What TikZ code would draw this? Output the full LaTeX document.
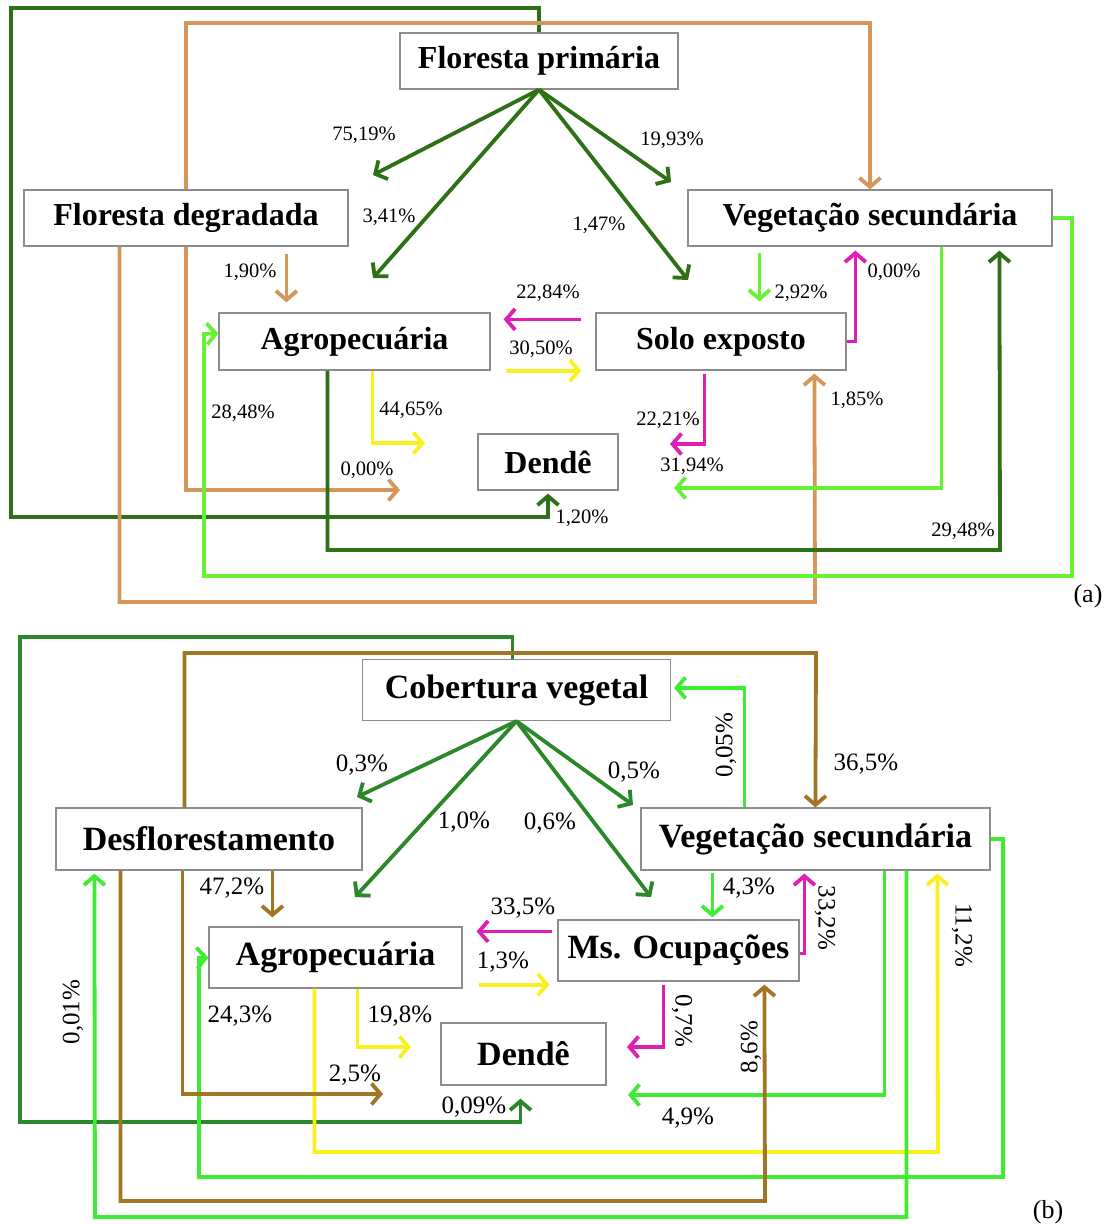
\documentclass[tikz,border=0pt]{standalone}
\usepackage{fontspec}
\setmainfont{Liberation Serif}
\usetikzlibrary{arrows.meta,calc}
\definecolor{dgA}{RGB}{46,112,22}
\definecolor{dgB}{RGB}{42,135,42}
\definecolor{lgA}{RGB}{100,242,50}
\definecolor{lgB}{RGB}{62,236,50}
\definecolor{orA}{RGB}{214,150,90}
\definecolor{brB}{RGB}{160,118,35}
\definecolor{mg}{RGB}{222,30,180}
\definecolor{yl}{RGB}{250,240,30}
\definecolor{boxgray}{RGB}{140,140,140}
\begin{document}
\begin{tikzpicture}[x=1pt,y=-1pt,
  boxA/.style={draw=boxgray,line width=1.2pt,fill=white,inner sep=0pt,
    font=\fontsize{32}{36}\selectfont\bfseries},
  boxB/.style={draw=boxgray,line width=1.2pt,fill=white,inner sep=0pt,
    font=\fontsize{34}{38}\selectfont\bfseries},
  lblA/.style={inner sep=0pt,font=\fontsize{20.5}{22}\selectfont},
  lblB/.style={inner sep=0pt,font=\fontsize{25}{27}\selectfont},
  flow/.style={line width=3.8pt,line join=miter,-{Straight Barb[length=9pt,width=21pt]}}]
\useasboundingbox (0,0) rectangle (1114,1224);
\fill[white] (0,0) rectangle (1114,1224);

% ---------------- panel (a) ----------------
\node[boxA,minimum width=278pt,minimum height=56pt] (fp) at (539,61) {Floresta primária};
\node[boxA,minimum width=324pt,minimum height=56pt] (fd) at (186,218) {Floresta degradada};
\node[boxA,minimum width=364pt,minimum height=56pt] (vs) at (870,218) {Vegetação secundária};
\node[boxA,minimum width=271pt,minimum height=57pt] (ag) at (354.5,341.5) {Agropecuária};
\node[boxA,minimum width=250pt,minimum height=57pt] (se) at (721,341.5) {Solo exposto};
\node[boxA,minimum width=140pt,minimum height=56pt] (de) at (548,462) {Dendê};

\coordinate (e7519) at (373,175);
\coordinate (e341) at (373,278);
\coordinate (e1993) at (671,182);
\coordinate (e147) at (688,280);
\coordinate (a000) at (400,490);
\coordinate (a4465) at (425,443);
\coordinate (a2221) at (670,444);
\coordinate (a3194) at (674,488);

\draw[flow,dgA] (fp.north) |- (11,8) -- (11,517) -| ($(de.south)+(0,3)$);
\draw[flow,orA] (fd.north) |- (870,23) -- (vs.north);
\draw[flow,orA] (fd.south) |- (a000);
\draw[flow,orA] ($(fd.south west)+(96,0)$) |- (815,602) -- ($(se.south west)+(219,3)$);
\draw[flow,orA] ($(fd.south west)+(263,7)$) -- ($(ag.north west)+(68,-10)$);
\draw[flow,dgA] (fp.south) -- (e7519);
\draw[flow,dgA] (fp.south) -- (e341);
\draw[flow,dgA] (fp.south) -- (e1993);
\draw[flow,dgA] (fp.south) -- (e147);
\draw[flow,mg] ($(se.north west)+(-14,7)$) -- ($(ag.north east)+(13,7)$);
\draw[flow,yl] ($(ag.south east)+(15,0)$) -- ($(se.south west)+(-14,0)$);
\draw[flow,lgA] ($(vs.south west)+(72,6)$) -- ($(se.north west)+(164,-11)$);
\draw[flow,mg] (se.east) -| ($(vs.south west)+(168,4)$);
\draw[flow,lgA] (vs.east) -| (1072,576) -| (204,334) -- ($(ag.north west)+(0,21)$);
\draw[flow,dgA] ($(ag.south west)+(109,0)$) |- (1000,550) -- ($(vs.south west)+(312,4)$);
\draw[flow,yl] ($(ag.south west)+(154,0)$) |- (a4465);
\draw[flow,mg] ($(se.south west)+(109,3)$) |- (a2221);
\draw[flow,lgA] ($(vs.south west)+(254,0)$) |- (a3194);

\node[lblA] (la1) at (364,135) {75,19\%};
\node[lblA] (la2) at (389,217) {3,41\%};
\node[lblA] (la3) at (250,272) {1,90\%};
\node[lblA] (la4) at (672,140) {19,93\%};
\node[lblA] (la5) at (599,225) {1,47\%};
\node[lblA] (la6) at (548,293) {22,84\%};
\node[lblA] (la7) at (541,349) {30,50\%};
\node[lblA] (la8) at (801,293) {2,92\%};
\node[lblA] (la9) at (894,272) {0,00\%};
\node[lblA] (la10) at (243,413) {28,48\%};
\node[lblA] (la11) at (411,410) {44,65\%};
\node[lblA] (la12) at (367,470) {0,00\%};
\node[lblA] (la13) at (668,420) {22,21\%};
\node[lblA] (la14) at (692,466) {31,94\%};
\node[lblA] (la15) at (582,518) {1,20\%};
\node[lblA] (la16) at (857,400) {1,85\%};
\node[lblA] (la17) at (963,531) {29,48\%};
\node[inner sep=0pt,font=\fontsize{26}{28}\selectfont] (tagA) at (1088,596) {(a)};

% ---------------- panel (b) ----------------
\node[boxB,minimum width=308pt,minimum height=61pt] (cv) at (516.5,690) {Cobertura vegetal};
\node[boxB,minimum width=306pt,minimum height=62pt] (df) at (209,839) {Desflorestamento};
\node[boxB,minimum width=349pt,minimum height=62pt] (vb) at (815.5,839) {Vegetação secundária};
\node[boxB,minimum width=253pt,minimum height=61pt] (ab) at (335.5,957.5) {Agropecuária};
\node[boxB,minimum width=241pt,minimum height=61pt] (mo) at (678.5,950.5) {Ms. Ocupações};
\node[boxB,minimum width=165pt,minimum height=62pt] (db) at (523.5,1054) {Dendê};

\coordinate (f03) at (357,797);
\coordinate (f10) at (355,897);
\coordinate (f05) at (633,805);
\coordinate (f06) at (651,897);
\coordinate (b49) at (628,1095);
\coordinate (b25) at (383,1094);
\coordinate (b198) at (411,1047);
\coordinate (b07) at (627,1047);

\draw[flow,dgB] ($(cv.north)+(-4,0)$) |- (20,637) -- (20,1122) -| ($(db.south)+(-3,13)$);
\draw[flow,brB] ($(df.north west)+(129,0)$) |- (816,653) -- ($(vb.north west)+(175,0)$);
\draw[flow,lgB] ($(vb.north west)+(104,0)$) |- ($(cv.north east)+(3,29)$);
\draw[flow,dgB] (cv.south) -- (f03);
\draw[flow,dgB] (cv.south) -- (f10);
\draw[flow,dgB] (cv.south) -- (f05);
\draw[flow,dgB] (cv.south) -- (f06);
\draw[flow,brB] ($(df.south west)+(217,0)$) -- ($(ab.north west)+(64,-9)$);
\draw[flow,mg] ($(mo.north west)+(-5,12)$) -- ($(ab.north east)+(14,5)$);
\draw[flow,yl] ($(ab.south east)+(16,-4)$) -- ($(mo.south west)+(-8,3)$);
\draw[flow,lgB] ($(vb.south west)+(72,2)$) -- ($(mo.north west)+(155,-2)$);
\draw[flow,mg] ($(mo.east)+(0,3)$) -| ($(vb.south west)+(164,3)$);
\draw[flow,yl] ($(ab.south west)+(106,0)$) |- (938,1152) -- ($(vb.south west)+(297,3)$);
\draw[flow,lgB] (vb.east) -| (1003,1177) -| (199,958) -- (ab.west);
\draw[flow,lgB] ($(vb.south west)+(244,0)$) |- (b49);
\draw[flow,lgB] ($(vb.south west)+(266,0)$) |- (95,1217) -- ($(df.south west)+(39,3)$);
\draw[flow,brB] ($(df.south west)+(65,0)$) |- (765,1201) -- ($(mo.south west)+(207,3)$);
\draw[flow,brB] ($(df.south west)+(127,0)$) |- (b25);
\draw[flow,yl] ($(ab.south west)+(149,0)$) |- (b198);
\draw[flow,mg] ($(mo.south west)+(106,3)$) |- (b07);

\node[lblB] (lb1) at (362,765) {0,3\%};
\node[lblB] (lb2) at (464,822) {1,0\%};
\node[lblB] (lb3) at (634,772) {0,5\%};
\node[lblB] (lb4) at (550,823) {0,6\%};
\node[lblB,rotate=90] (lb5) at (726,745) {0,05\%};
\node[lblB] (lb6) at (866,764) {36,5\%};
\node[lblB] (lb7) at (232,888) {47,2\%};
\node[lblB] (lb8) at (523,908) {33,5\%};
\node[lblB] (lb9) at (749,888) {4,3\%};
\node[lblB] (lb10) at (503,962) {1,3\%};
\node[lblB,rotate=-90] (lb11) at (825,918) {33,2\%};
\node[lblB,rotate=-90] (lb12) at (962,935) {11,2\%};
\node[lblB] (lb13) at (240,1016) {24,3\%};
\node[lblB] (lb14) at (400,1016) {19,8\%};
\node[lblB,rotate=-90] (lb15) at (682,1021) {0,7\%};
\node[lblB,rotate=90] (lb16) at (751,1047) {8,6\%};
\node[lblB] (lb17) at (355,1075) {2,5\%};
\node[lblB] (lb18) at (474,1107) {0,09\%};
\node[lblB] (lb19) at (688,1118) {4,9\%};
\node[lblB,rotate=90] (lb20) at (73,1012) {0,01\%};
\node[inner sep=0pt,font=\fontsize{26}{28}\selectfont] (tagB) at (1048,1212) {(b)};
\end{tikzpicture}
\end{document}
